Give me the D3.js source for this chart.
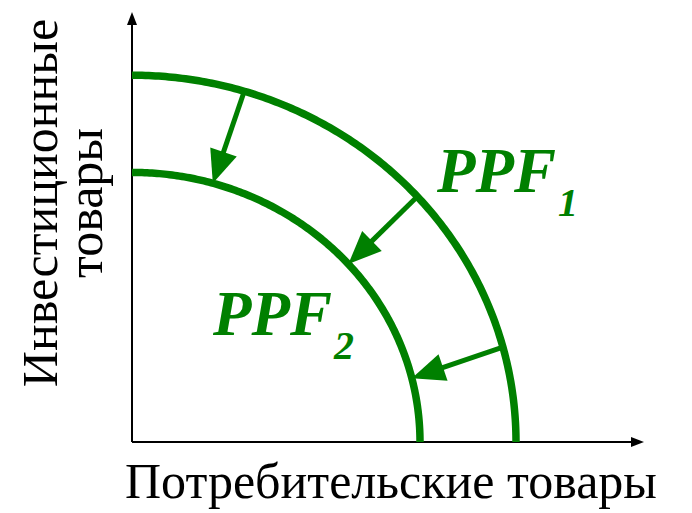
<!DOCTYPE html>
<html><head><meta charset="UTF-8">
<script src="https://cdnjs.cloudflare.com/ajax/libs/d3/7.8.5/d3.min.js"></script>
<style>
    body { margin: 0; }
</style>
</head>
<body>
<svg id="chart" width="692" height="513"></svg>
<script>
    // two frontiers, given by where they cross each axis (data units 0..100)
    let curveNames = ["1", "2"];
    let xIntercepts = [75, 56.25];
    let yIntercepts = [85.3, 62.7];
    // shift arrows: ellipse angle (deg) where each arrow leaves PPF1 and hits PPF2
    let arrowFrom = [73, 42, 15];
    let arrowTo = [73.7, 41.3, 13.7];
    let xLabel = "Потребительские товары";
    let yLabel = ["Инвестиционные", "товары"];

    let green = "#008000";
    let svg = d3.select("#chart");

    let x = d3.scaleLinear().domain([0, 100]).range([132, 644]);
    let y = d3.scaleLinear().domain([0, 100]).range([442, 12]);

    // point on frontier i at angle a
    function pt(i, a) {
        let r = a * Math.PI / 180;
        return [x(xIntercepts[i] * Math.cos(r)), y(yIntercepts[i] * Math.sin(r))];
    }

    // axes with arrow heads
    svg.append("line")
        .attr("x1", x(0)).attr("y1", y(0)).attr("x2", x(100) - 10).attr("y2", y(0))
        .attr("stroke", "#000").attr("stroke-width", 2);
    svg.append("line")
        .attr("x1", x(0)).attr("y1", y(0)).attr("x2", x(0)).attr("y2", y(100) + 10)
        .attr("stroke", "#000").attr("stroke-width", 2);
    svg.append("path")
        .attr("d", `M${x(100)},${y(0)} L${x(100) - 13},${y(0) - 5} L${x(100) - 13},${y(0) + 5} Z`)
        .attr("fill", "#000");
    svg.append("path")
        .attr("d", `M${x(0)},${y(100)} L${x(0) - 5},${y(100) + 13} L${x(0) + 5},${y(100) + 13} Z`)
        .attr("fill", "#000");

    // frontiers
    let line = d3.line();
    curveNames.forEach((n, i) => {
        let pts = d3.range(0, 90.5, 0.5).map(a => pt(i, a));
        svg.append("path")
            .attr("d", line(pts))
            .attr("fill", "none")
            .attr("stroke", green)
            .attr("stroke-width", 7.5);
    });

    // arrows
    let headL = 33, headW = 28;
    arrowFrom.forEach((a, k) => {
        let s = pt(0, a), t = pt(1, arrowTo[k]);
        let dx = t[0] - s[0], dy = t[1] - s[1];
        let len = Math.hypot(dx, dy);
        let ux = dx / len, uy = dy / len;
        let bx = t[0] - ux * headL, by = t[1] - uy * headL;
        svg.append("line")
            .attr("x1", s[0]).attr("y1", s[1])
            .attr("x2", bx + ux * 2).attr("y2", by + uy * 2)
            .attr("stroke", green).attr("stroke-width", 5);
        svg.append("path")
            .attr("d", `M${t[0]},${t[1]} L${bx - uy * headW / 2},${by + ux * headW / 2} L${bx + uy * headW / 2},${by - ux * headW / 2} Z`)
            .attr("fill", green);
    });

    // PPF labels
    let labelPos = [[437, 192], [213, 335]];
    curveNames.forEach((n, i) => {
        let t = svg.append("text")
            .attr("x", labelPos[i][0]).attr("y", labelPos[i][1])
            .attr("font-family", "Liberation Serif")
            .attr("fill", green)
            .style("font-weight", "bold")
            .style("font-style", "italic")
            .style("font-size", "63px")
            .text("PPF");
        t.append("tspan")
            .attr("dx", 2).attr("dy", 24)
            .style("font-size", "40px")
            .text(n);
    });

    // axis titles
    svg.append("text")
        .attr("x", 125).attr("y", 498)
        .attr("font-family", "Liberation Serif")
        .style("font-size", "50px")
        .text(xLabel);
    let yt = svg.append("text")
        .attr("transform", "translate(57,203) rotate(-90)")
        .attr("text-anchor", "middle")
        .attr("font-family", "Liberation Serif")
        .style("font-size", "50px");
    yLabel.forEach((s, i) => {
        yt.append("tspan").attr("x", 0).attr("y", i * 45).text(s);
    });
</script>
</body>
</html>
